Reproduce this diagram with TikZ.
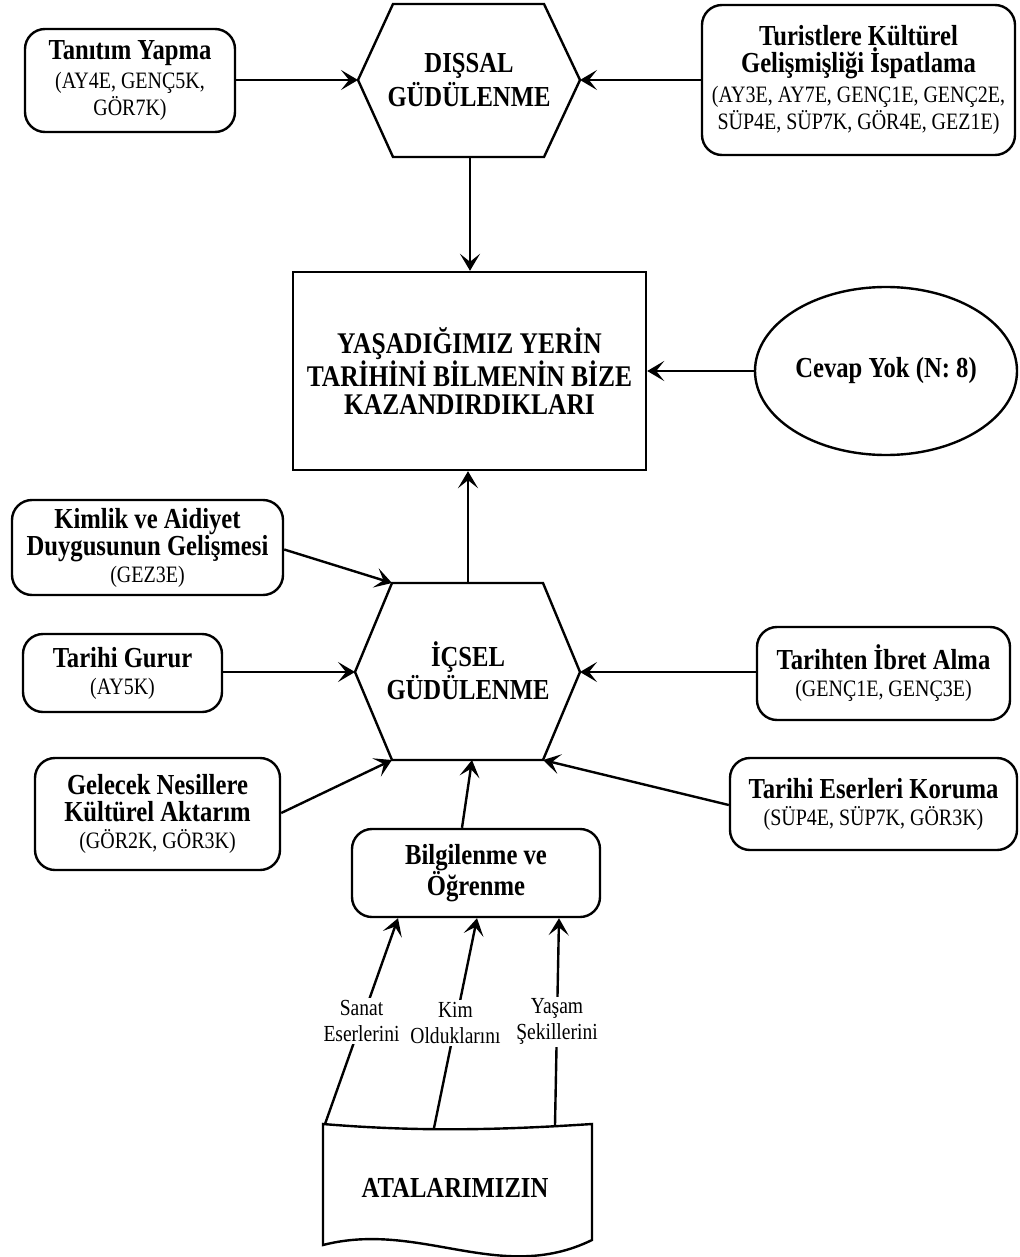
\documentclass[tikz,border=0pt]{standalone}
\usepackage{fontspec}
\setmainfont{Liberation Serif}[FakeStretch=0.85]
\usetikzlibrary{arrows.meta,shapes.geometric,calc}
\newcommand{\mytitle}{\fontsize{29}{28}\selectfont\bfseries}
\newcommand{\mycodes}{\fontsize{23.5}{27}\selectfont}
\newcommand{\mybig}{\fontsize{30}{28}\selectfont\bfseries}
\newcommand{\mylbl}{\fontsize{23}{26}\selectfont}
\tikzset{
  lw/.style={line width=2.4pt},
  rbox/.style={draw, lw, rounded corners=20pt, align=center, inner sep=0pt, font=\mycodes},
  arr/.style={-{Stealth[length=17pt,width=20pt,inset=8pt]}, lw},
  lbl/.style={fill=white, align=center, inner sep=2pt, font=\mylbl},
  hexpath/.style={draw, lw, line join=miter},
}
\begin{document}
\begin{tikzpicture}[x=1pt,y=-1pt]
\useasboundingbox (0,0) rectangle (1019,1257);

% ---- DISSAL hexagon
\coordinate (d1) at (393,4);
\coordinate (d2) at (544,4);
\coordinate (dr) at (580,80);
\coordinate (d4) at (544,157);
\coordinate (d5) at (393,157);
\coordinate (dl) at (358,80);
\coordinate (db) at (470,157);
\draw[hexpath] (d1) -- (d2) -- (dr) -- (d4) -- (d5) -- (dl) -- cycle;
\node[align=center, font=\mytitle, inner sep=0pt] (dis) at (469,80) {DIŞSAL\\[2pt]GÜDÜLENME};

% ---- top boxes
\node[rbox, minimum width=210, minimum height=103] (tan) at (130,80.5)
  {{\mytitle Tanıtım Yapma}\\[2pt](AY4E, GENÇ5K,\\GÖR7K)};
\node[rbox, minimum width=313, minimum height=150] (tur) at (858.5,80)
  {{\mytitle Turistlere Kültürel}\\{\mytitle Gelişmişliği İspatlama}\\[3pt](AY3E, AY7E, GENÇ1E, GENÇ2E,\\SÜP4E, SÜP7K, GÖR4E, GEZ1E)};

% ---- main box
\node[draw, lw, minimum width=353, minimum height=198, align=center, font=\mybig, inner sep=0pt] (main) at (469.5,371)
  {YAŞADIĞIMIZ YERİN\\TARİHİNİ BİLMENİN BİZE\\KAZANDIRDIKLARI};
\node[draw, lw, ellipse, minimum width=262, minimum height=168, inner sep=0pt, font=\mytitle] (cev) at (886,371)
  {Cevap Yok (N: 8)};

% ---- ICSEL hexagon
\coordinate (i1) at (392,583);
\coordinate (i2) at (543,583);
\coordinate (ir) at (580,672);
\coordinate (i4) at (543,760);
\coordinate (i5) at (392,760);
\coordinate (il) at (355,672);
\coordinate (it) at (468,583);
\coordinate (ib) at (472,760);
\draw[hexpath] (i1) -- (i2) -- (ir) -- (i4) -- (i5) -- (il) -- cycle;
\node[align=center, font=\mytitle, inner sep=0pt] (ics) at (468,671) {İÇSEL\\[2pt]GÜDÜLENME};

% ---- lower boxes
\node[rbox, minimum width=271, minimum height=95] (kim) at (147.5,547.5)
  {{\mytitle Kimlik ve Aidiyet}\\{\mytitle Duygusunun Gelişmesi}\\(GEZ3E)};
\node[rbox, minimum width=199, minimum height=78] (gur) at (122.5,673)
  {{\mytitle Tarihi Gurur}\\(AY5K)};
\node[rbox, minimum width=245, minimum height=112] (gel) at (157.5,814)
  {{\mytitle Gelecek Nesillere}\\{\mytitle Kültürel Aktarım}\\(GÖR2K, GÖR3K)};
\node[rbox, minimum width=253, minimum height=93] (ibr) at (883.5,673.5)
  {{\mytitle Tarihten İbret Alma}\\(GENÇ1E, GENÇ3E)};
\node[rbox, minimum width=287, minimum height=92] (kor) at (873.5,804)
  {{\mytitle Tarihi Eserleri Koruma}\\(SÜP4E, SÜP7K, GÖR3K)};
\node[rbox, minimum width=248, minimum height=88, font=\mytitle] (bil) at (476,873)
  {Bilgilenme ve\\Öğrenme};

% ---- document shape
\coordinate (a1) at (325,1124);
\coordinate (a2) at (434,1128);
\coordinate (a3) at (555,1125);
\draw[lw] (323,1124) .. controls (420,1132) and (500,1130) .. (592,1124)
  -- (592,1240) .. controls (500,1285) and (420,1220) .. (323,1245) -- cycle;
\node[font=\mytitle, inner sep=0pt] (ata) at (455,1188) {ATALARIMIZIN};

% ---- connectors
\draw[arr] (tan.east |- dl) -- (dl);
\draw[arr] (tur.west |- dr) -- (dr);
\draw[arr] (db) -- (db |- main.north);
\draw[arr] (cev.west) -- (cev.west -| main.east);
\draw[arr] (it) -- (it |- main.south);
\draw[arr] ($(kim.east)+(0,2)$) -- (i1);
\draw[arr] (gur.east |- il) -- (il);
\draw[arr] ($(gel.east)+(0,-1)$) -- (i5);
\draw[arr] (ibr.west |- ir) -- (ir);
\draw[arr] ($(kor.west)+(0,1)$) -- (i4);
\draw[arr] ($(bil.north)+(-14,0)$) -- (ib);
\draw[arr] (a1) -- node[lbl] (l1) {Sanat\\Eserlerini} ($(bil.south)+(-78,0)$);
\draw[arr] (a2) -- node[lbl] (l2) {Kim\\Olduklarını} ($(bil.south)+(1,0)$);
\draw[arr] (a3) -- node[lbl] (l3) {Yaşam\\Şekillerini} ($(bil.south)+(83,0)$);
\end{tikzpicture}
\end{document}
